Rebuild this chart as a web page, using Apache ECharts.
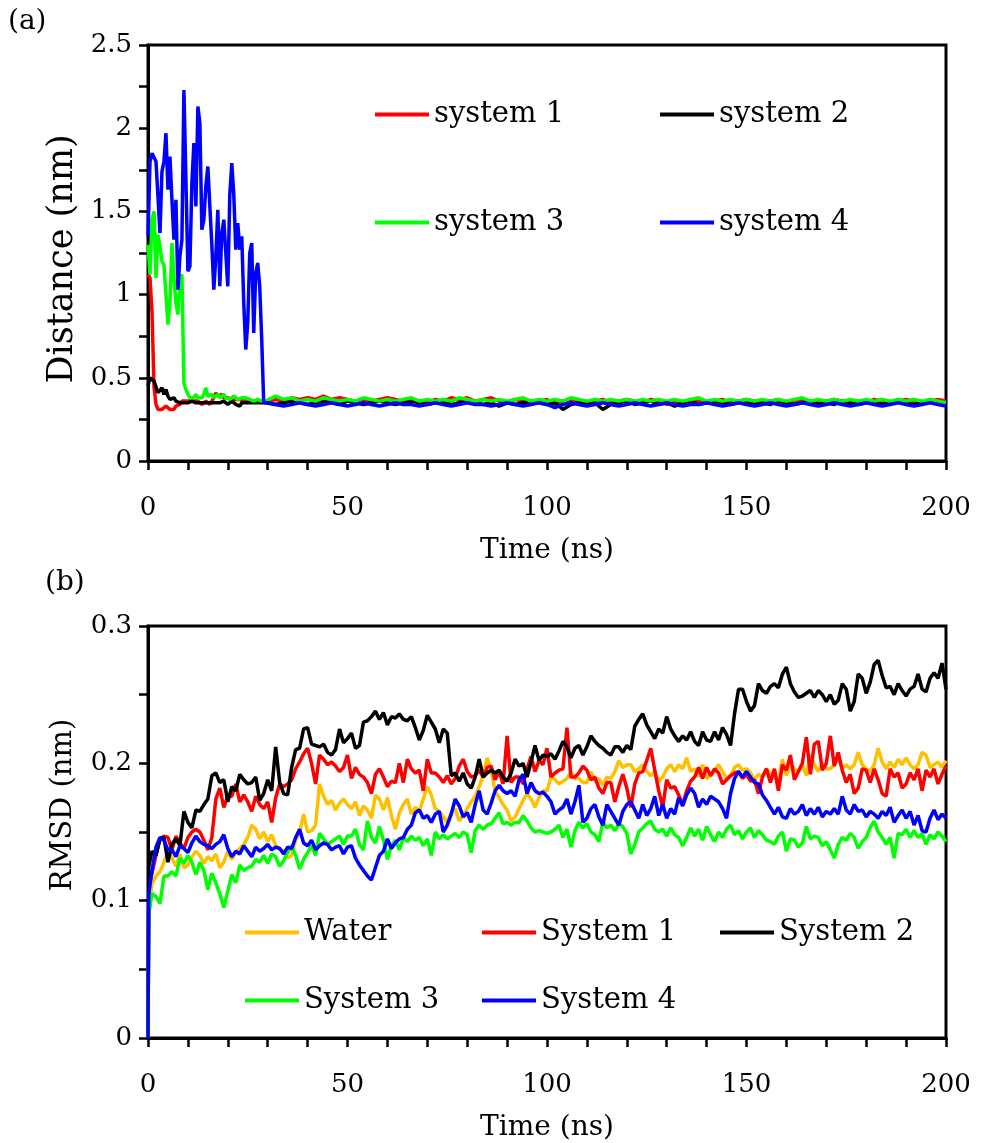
<!DOCTYPE html>
<html>
<head>
<meta charset="utf-8">
<script src="https://cdn.jsdelivr.net/npm/echarts@6/dist/echarts.min.js"></script>
<style>
  html, body { margin: 0; padding: 0; background: #fff; }
  #chart { width: 985px; height: 1143px; }
</style>
</head>
<body>
<div id="chart"></div>
<script>
// ---------- (a) Distance vs time: 0-29.5 ns every 0.5 ns, then 30-200 ns every 2 ns ----------
const distSys1Early = [
  1.12,1.10,0.90,0.45,0.34,0.31,0.32,0.31,0.30,0.33,
  0.32,0.31,0.32,0.31,0.33,0.32,0.34,0.36,0.35,0.36,
  0.35,0.36,0.35,0.36,0.35,0.36,0.35,0.34,0.35,0.36,
  0.35,0.34,0.36,0.38,0.41,0.39,0.38,0.40,0.38,0.37,
  0.38,0.39,0.37,0.38,0.37,0.36,0.37,0.38,0.36,0.37,
  0.36,0.37,0.36,0.37,0.36,0.35,0.36,0.37,0.36,0.35
];
const distSys1Late = [
  0.36,0.37,0.36,0.38,0.37,0.38,0.37,0.39,0.37,0.38,
  0.37,0.36,0.37,0.36,0.37,0.38,0.37,0.36,0.37,0.36,
  0.35,0.37,0.36,0.38,0.37,0.38,0.36,0.37,0.38,0.36,
  0.35,0.37,0.36,0.35,0.36,0.37,0.34,0.36,0.37,0.36,
  0.35,0.36,0.37,0.35,0.36,0.37,0.36,0.35,0.37,0.36,
  0.34,0.36,0.35,0.37,0.36,0.35,0.36,0.37,0.35,0.36,
  0.37,0.36,0.35,0.36,0.37,0.35,0.36,0.37,0.36,0.35,
  0.36,0.37,0.36,0.35,0.36,0.35,0.37,0.36,0.35,0.36,
  0.37,0.36,0.35,0.36,0.37,0.36
];
const distSys2Early = [
  0.45,0.50,0.51,0.48,0.47,0.41,0.42,0.44,0.40,0.43,
  0.39,0.37,0.37,0.38,0.36,0.37,0.35,0.36,0.35,0.36,
  0.35,0.34,0.36,0.35,0.35,0.36,0.35,0.34,0.35,0.36,
  0.35,0.34,0.35,0.36,0.35,0.34,0.35,0.35,0.36,0.35,
  0.34,0.35,0.36,0.35,0.34,0.35,0.33,0.35,0.34,0.35,
  0.36,0.35,0.34,0.35,0.36,0.35,0.34,0.35,0.34,0.35
];
const distSys2Late = [
  0.35,0.34,0.35,0.36,0.35,0.34,0.35,0.36,0.35,0.34,
  0.36,0.35,0.34,0.35,0.36,0.35,0.34,0.35,0.36,0.35,
  0.34,0.35,0.36,0.34,0.35,0.36,0.35,0.34,0.35,0.33,
  0.35,0.34,0.35,0.36,0.35,0.34,0.35,0.31,0.34,0.35,
  0.34,0.35,0.31,0.34,0.35,0.36,0.34,0.35,0.36,0.34,
  0.35,0.33,0.35,0.36,0.34,0.35,0.36,0.35,0.34,0.35,
  0.36,0.34,0.35,0.34,0.36,0.35,0.34,0.35,0.36,0.34,
  0.35,0.34,0.36,0.35,0.34,0.35,0.36,0.34,0.35,0.36,
  0.35,0.34,0.35,0.36,0.35,0.34
];
const distSys3Early = [
  1.30,1.12,1.45,1.50,1.10,1.36,1.29,1.20,1.18,1.00,
  0.82,0.95,1.31,1.10,0.95,0.88,1.10,1.12,0.47,0.43,
  0.40,0.38,0.39,0.38,0.40,0.38,0.39,0.38,0.40,0.44,
  0.39,0.38,0.40,0.38,0.39,0.40,0.38,0.39,0.40,0.38,
  0.39,0.37,0.38,0.39,0.38,0.37,0.38,0.38,0.37,0.38,
  0.37,0.37,0.38,0.36,0.37,0.37,0.36,0.36,0.37,0.36
];
const distSys3Late = [
  0.36,0.39,0.37,0.38,0.36,0.37,0.36,0.38,0.37,0.36,
  0.37,0.36,0.38,0.37,0.36,0.37,0.36,0.37,0.38,0.36,
  0.37,0.36,0.37,0.36,0.38,0.37,0.36,0.37,0.36,0.37,
  0.36,0.37,0.38,0.36,0.37,0.36,0.37,0.36,0.38,0.37,
  0.36,0.37,0.36,0.37,0.36,0.37,0.36,0.37,0.36,0.37,
  0.36,0.37,0.36,0.37,0.38,0.36,0.37,0.36,0.37,0.36,
  0.37,0.36,0.37,0.36,0.37,0.36,0.37,0.38,0.36,0.37,
  0.36,0.37,0.36,0.37,0.36,0.37,0.36,0.37,0.36,0.37,
  0.36,0.37,0.36,0.37,0.36,0.35
];
const distSys4Early = [
  1.35,1.80,1.85,1.86,1.80,1.59,1.37,1.74,1.80,1.97,
  1.63,1.83,1.57,1.33,1.57,1.03,1.23,1.33,2.23,1.70,
  1.14,1.17,1.67,1.91,1.53,2.13,2.03,1.39,1.45,1.65,
  1.77,1.53,1.30,1.03,1.23,1.51,1.05,1.37,1.45,1.25,
  1.05,1.60,1.79,1.60,1.27,1.43,1.27,1.35,0.95,0.67,
  0.83,1.25,1.31,0.77,1.13,1.19,1.05,0.73,0.35,0.34
];
const distSys4Late = [
  0.35,0.34,0.33,0.34,0.35,0.34,0.33,0.34,0.35,0.34,
  0.33,0.34,0.35,0.34,0.33,0.34,0.35,0.34,0.34,0.33,
  0.34,0.35,0.34,0.33,0.34,0.35,0.34,0.34,0.33,0.34,
  0.35,0.34,0.33,0.34,0.35,0.34,0.32,0.34,0.35,0.34,
  0.33,0.34,0.35,0.34,0.33,0.34,0.35,0.34,0.33,0.34,
  0.35,0.34,0.33,0.34,0.34,0.35,0.34,0.33,0.34,0.35,
  0.34,0.33,0.34,0.35,0.34,0.33,0.34,0.35,0.34,0.33,
  0.34,0.35,0.34,0.33,0.34,0.35,0.34,0.33,0.34,0.35,
  0.34,0.33,0.34,0.35,0.34,0.33
];

// sample times for panel (a)
const distTime = [];
for (let i = 0; i < 60; i++) distTime.push(i * 0.5);
for (let t = 30; t <= 200; t += 2) distTime.push(t);

// ---------- (b) RMSD vs time: samples at 0, 0.2, then every 1 ns to 200 ns ----------
const rmsdTime = [0, 0.2];
for (let t = 1; t <= 200; t++) rmsdTime.push(t);

const rmsdWater = [
  0, 0.095,
  0.112,0.118,0.121,0.128,0.135,0.131,0.125,0.134,0.124,0.126,
  0.132,0.136,0.133,0.127,0.132,0.129,0.134,0.124,0.128,0.136,
  0.130,0.135,0.138,0.141,0.146,0.155,0.152,0.145,0.150,0.143,
  0.148,0.140,0.138,0.136,0.131,0.133,0.144,0.150,0.163,0.150,
  0.151,0.155,0.185,0.176,0.170,0.173,0.166,0.171,0.174,0.170,
  0.167,0.172,0.162,0.169,0.166,0.160,0.177,0.174,0.166,0.175,
  0.162,0.152,0.164,0.170,0.174,0.163,0.168,0.165,0.174,0.183,
  0.177,0.167,0.165,0.161,0.157,0.164,0.167,0.158,0.162,0.167,
  0.172,0.176,0.183,0.191,0.204,0.195,0.180,0.175,0.170,0.166,
  0.158,0.161,0.167,0.173,0.178,0.174,0.168,0.175,0.180,0.180,
  0.190,0.188,0.185,0.187,0.189,0.194,0.189,0.189,0.186,0.186,
  0.194,0.187,0.189,0.184,0.190,0.189,0.194,0.202,0.197,0.199,
  0.199,0.194,0.196,0.199,0.194,0.191,0.194,0.187,0.190,0.196,
  0.199,0.194,0.199,0.196,0.204,0.194,0.196,0.190,0.199,0.189,
  0.191,0.194,0.199,0.194,0.189,0.191,0.197,0.199,0.195,0.196,
  0.193,0.188,0.192,0.190,0.196,0.193,0.191,0.186,0.203,0.191,
  0.199,0.196,0.194,0.199,0.191,0.206,0.199,0.194,0.200,0.196,
  0.196,0.199,0.204,0.196,0.199,0.196,0.199,0.208,0.199,0.196,
  0.194,0.199,0.211,0.201,0.196,0.201,0.197,0.203,0.199,0.204,
  0.199,0.196,0.199,0.208,0.206,0.197,0.199,0.201,0.197,0.202
];
const rmsdSys1 = [
  0, 0.110,
  0.120,0.133,0.145,0.147,0.146,0.137,0.147,0.142,0.138,0.146,
  0.150,0.152,0.150,0.144,0.137,0.146,0.174,0.182,0.168,0.176,
  0.176,0.185,0.172,0.177,0.172,0.165,0.176,0.170,0.167,0.172,
  0.157,0.175,0.185,0.183,0.185,0.188,0.196,0.201,0.207,0.211,
  0.200,0.185,0.206,0.203,0.199,0.201,0.198,0.194,0.197,0.206,
  0.189,0.197,0.192,0.190,0.186,0.178,0.192,0.196,0.190,0.183,
  0.187,0.186,0.200,0.186,0.203,0.196,0.193,0.195,0.180,0.203,
  0.193,0.193,0.190,0.186,0.191,0.185,0.189,0.198,0.203,0.194,
  0.190,0.191,0.195,0.190,0.197,0.198,0.188,0.194,0.185,0.220,
  0.186,0.190,0.190,0.185,0.196,0.205,0.194,0.202,0.199,0.211,
  0.190,0.193,0.195,0.196,0.226,0.190,0.190,0.193,0.198,0.195,
  0.188,0.190,0.182,0.178,0.186,0.186,0.172,0.183,0.192,0.182,
  0.168,0.185,0.193,0.194,0.202,0.211,0.195,0.180,0.168,0.188,
  0.182,0.183,0.177,0.170,0.180,0.187,0.190,0.197,0.189,0.197,
  0.191,0.196,0.193,0.185,0.188,0.191,0.193,0.194,0.189,0.192,
  0.187,0.188,0.178,0.190,0.196,0.186,0.196,0.180,0.199,0.195,
  0.206,0.188,0.194,0.200,0.219,0.192,0.214,0.216,0.195,0.200,
  0.220,0.198,0.208,0.195,0.186,0.192,0.178,0.182,0.196,0.195,
  0.186,0.196,0.188,0.178,0.176,0.196,0.190,0.193,0.182,0.185,
  0.193,0.188,0.196,0.180,0.195,0.190,0.196,0.185,0.192,0.198
];
const rmsdSys2 = [
  0, 0.125,
  0.136,0.133,0.145,0.146,0.128,0.141,0.145,0.140,0.165,0.157,
  0.153,0.166,0.165,0.170,0.174,0.191,0.193,0.186,0.188,0.172,
  0.183,0.180,0.192,0.188,0.185,0.186,0.190,0.173,0.178,0.188,
  0.180,0.212,0.186,0.178,0.177,0.197,0.210,0.211,0.225,0.226,
  0.214,0.213,0.212,0.214,0.208,0.206,0.210,0.225,0.215,0.218,
  0.222,0.211,0.213,0.230,0.231,0.234,0.238,0.232,0.237,0.228,
  0.234,0.233,0.236,0.232,0.231,0.234,0.226,0.217,0.224,0.235,
  0.230,0.225,0.215,0.225,0.222,0.191,0.193,0.187,0.193,0.185,
  0.182,0.190,0.203,0.190,0.193,0.195,0.193,0.195,0.190,0.187,
  0.193,0.203,0.198,0.200,0.190,0.201,0.213,0.202,0.206,0.205,
  0.207,0.203,0.209,0.216,0.212,0.204,0.211,0.213,0.206,0.212,
  0.220,0.216,0.213,0.211,0.208,0.206,0.212,0.212,0.208,0.213,
  0.210,0.227,0.232,0.236,0.228,0.223,0.218,0.225,0.222,0.234,
  0.225,0.220,0.216,0.220,0.217,0.223,0.216,0.213,0.223,0.217,
  0.216,0.223,0.217,0.226,0.221,0.213,0.236,0.254,0.254,0.245,
  0.238,0.242,0.258,0.253,0.251,0.256,0.258,0.255,0.265,0.270,
  0.258,0.252,0.248,0.249,0.251,0.253,0.248,0.253,0.250,0.245,
  0.250,0.243,0.246,0.258,0.254,0.238,0.245,0.265,0.262,0.251,
  0.259,0.272,0.275,0.264,0.255,0.256,0.250,0.258,0.253,0.249,
  0.254,0.256,0.265,0.254,0.252,0.262,0.266,0.262,0.273,0.254
];
const rmsdSys3 = [
  0, 0.090,
  0.105,0.103,0.098,0.118,0.118,0.121,0.118,0.131,0.127,0.133,
  0.128,0.119,0.128,0.122,0.108,0.120,0.113,0.105,0.095,0.107,
  0.119,0.113,0.126,0.122,0.124,0.125,0.130,0.128,0.133,0.127,
  0.134,0.132,0.125,0.129,0.135,0.140,0.133,0.123,0.130,0.135,
  0.140,0.133,0.149,0.145,0.141,0.143,0.145,0.147,0.141,0.147,
  0.147,0.152,0.141,0.137,0.158,0.146,0.142,0.154,0.144,0.130,
  0.140,0.144,0.137,0.146,0.143,0.147,0.144,0.146,0.140,0.145,
  0.133,0.150,0.145,0.148,0.145,0.147,0.149,0.146,0.150,0.148,
  0.135,0.151,0.155,0.152,0.155,0.156,0.160,0.164,0.156,0.157,
  0.155,0.157,0.157,0.162,0.158,0.153,0.150,0.151,0.150,0.149,
  0.150,0.152,0.155,0.146,0.152,0.139,0.151,0.157,0.153,0.156,
  0.150,0.148,0.143,0.157,0.153,0.155,0.151,0.156,0.154,0.149,
  0.134,0.141,0.150,0.153,0.156,0.158,0.152,0.150,0.152,0.147,
  0.153,0.148,0.146,0.140,0.146,0.153,0.147,0.152,0.144,0.154,
  0.148,0.143,0.150,0.146,0.152,0.155,0.148,0.151,0.145,0.150,
  0.153,0.146,0.151,0.148,0.144,0.143,0.141,0.147,0.150,0.136,
  0.145,0.144,0.139,0.142,0.154,0.145,0.147,0.146,0.140,0.143,
  0.137,0.131,0.141,0.146,0.144,0.149,0.146,0.138,0.143,0.146,
  0.153,0.158,0.150,0.146,0.141,0.146,0.131,0.149,0.148,0.152,
  0.146,0.151,0.146,0.149,0.141,0.148,0.145,0.150,0.147,0.143
];
const rmsdSys4 = [
  0, 0.105,
  0.122,0.139,0.146,0.144,0.137,0.137,0.132,0.140,0.138,0.135,
  0.142,0.147,0.143,0.141,0.140,0.138,0.141,0.143,0.148,0.138,
  0.132,0.136,0.134,0.140,0.136,0.132,0.139,0.136,0.138,0.141,
  0.137,0.139,0.138,0.134,0.139,0.138,0.146,0.152,0.142,0.140,
  0.144,0.137,0.140,0.142,0.141,0.137,0.139,0.140,0.134,0.139,
  0.140,0.131,0.126,0.122,0.118,0.115,0.124,0.133,0.136,0.145,
  0.138,0.142,0.145,0.146,0.152,0.155,0.164,0.166,0.160,0.162,
  0.157,0.163,0.165,0.150,0.155,0.163,0.174,0.169,0.161,0.164,
  0.157,0.170,0.180,0.166,0.163,0.171,0.180,0.184,0.180,0.178,
  0.180,0.176,0.188,0.192,0.178,0.186,0.180,0.178,0.179,0.176,
  0.172,0.163,0.166,0.168,0.174,0.163,0.172,0.184,0.157,0.160,
  0.167,0.170,0.161,0.155,0.170,0.165,0.160,0.155,0.165,0.170,
  0.172,0.166,0.160,0.170,0.162,0.167,0.176,0.162,0.170,0.160,
  0.167,0.163,0.175,0.169,0.177,0.182,0.178,0.168,0.174,0.170,
  0.176,0.174,0.172,0.167,0.160,0.178,0.189,0.194,0.190,0.194,
  0.190,0.186,0.185,0.177,0.173,0.168,0.163,0.168,0.161,0.160,
  0.167,0.163,0.165,0.170,0.162,0.167,0.163,0.168,0.161,0.165,
  0.163,0.167,0.163,0.176,0.166,0.163,0.170,0.165,0.166,0.161,
  0.165,0.163,0.160,0.165,0.162,0.168,0.157,0.162,0.166,0.160,
  0.165,0.155,0.162,0.151,0.150,0.160,0.166,0.159,0.163,0.160
];

const FONT = 'DejaVu Serif';
const RED = '#ff0000', BLACK = '#000000', GREEN = '#00ff00', BLUE = '#0000ff', GOLD = '#ffc000';

function line(name, times, vals, color, idx) {
  return {
    name: name, type: 'line', xAxisIndex: idx, yAxisIndex: idx,
    data: times.map((t, i) => [t, vals[i]]),
    showSymbol: false, symbol: 'none', silent: true, animation: false,
    lineStyle: { color: color, width: 3.5 }, itemStyle: { color: color }
  };
}

function legendItem(name, left, top) {
  return {
    data: [name], left: left, top: top, orient: 'horizontal',
    icon: 'rect', itemWidth: 54, itemHeight: 4, itemGap: 0, padding: 0,
    selectedMode: false,
    textStyle: { fontFamily: FONT, fontSize: 29, color: '#000' }
  };
}

const axisLineStyle = { show: true, onZero: false, lineStyle: { color: '#000', width: 3 } };
const tickStyle = { show: true, inside: false, length: 9, lineStyle: { color: '#000', width: 2.5 } };
const labelFont = { fontFamily: FONT, fontSize: 26, color: '#000' };
const nameFont = { fontFamily: FONT, fontSize: 28, color: '#000' };

function xAxis(idx) {
  return {
    type: 'value', gridIndex: idx, min: 0, max: 200, interval: 10,
    name: 'Time (ns)', nameLocation: 'middle', nameGap: 76, nameTextStyle: nameFont,
    axisLine: axisLineStyle, axisTick: tickStyle, splitLine: { show: false },
    axisLabel: Object.assign({ margin: 34, formatter: v => (v % 50 === 0 ? String(v) : '') }, labelFont)
  };
}

const option = {
  backgroundColor: '#ffffff',
  animation: false,
  textStyle: { fontFamily: FONT },
  grid: [
    { left: 148, top: 45, width: 798, height: 416, show: true, borderColor: '#000', borderWidth: 3, backgroundColor: 'transparent' },
    { left: 148, top: 626, width: 798, height: 416, show: true, borderColor: '#000', borderWidth: 3, backgroundColor: 'transparent' }
  ],
  xAxis: [xAxis(0), xAxis(1)],
  yAxis: [
    {
      type: 'value', gridIndex: 0, min: 0, max: 2.5, interval: 0.25,
      axisLine: axisLineStyle, axisTick: tickStyle, splitLine: { show: false },
      axisLabel: Object.assign({ margin: 16, formatter: v => (Math.round(v * 100) % 50 === 0 ? String(+v.toFixed(2)) : '') }, labelFont)
    },
    {
      type: 'value', gridIndex: 1, min: 0, max: 0.3, interval: 0.05,
      axisLine: axisLineStyle, axisTick: tickStyle, splitLine: { show: false },
      axisLabel: Object.assign({ margin: 16, formatter: v => {
        const c = Math.round(v * 100);
        if (c % 10 !== 0) return '';
        return c === 0 ? '0' : (c / 100).toFixed(1);
      } }, labelFont)
    }
  ],
  legend: [
    legendItem('system 1', 375, 100),
    legendItem('system 2', 660, 100),
    legendItem('system 3', 375, 208),
    legendItem('system 4', 660, 208),
    legendItem('Water', 245, 918),
    legendItem('System 1', 482, 918),
    legendItem('System 2', 720, 918),
    legendItem('System 3', 245, 986),
    legendItem('System 4', 482, 986)
  ],
  graphic: [
    { type: 'text', left: 8, top: 8, style: { text: '(a)', font: '28px "DejaVu Serif"', fill: '#000' } },
    { type: 'text', left: 45, top: 569, style: { text: '(b)', font: '28px "DejaVu Serif"', fill: '#000' } },
    { type: 'text', x: 63, y: 259, rotation: Math.PI / 2,
      style: { text: 'Distance (nm)', font: '35px "DejaVu Serif"', fill: '#000', align: 'center', verticalAlign: 'middle' } },
    { type: 'text', x: 63, y: 805, rotation: Math.PI / 2,
      style: { text: 'RMSD (nm)', font: '29px "DejaVu Serif"', fill: '#000', align: 'center', verticalAlign: 'middle' } }
  ],
  series: [
    line('system 1', distTime, distSys1Early.concat(distSys1Late), RED, 0),
    line('system 2', distTime, distSys2Early.concat(distSys2Late), BLACK, 0),
    line('system 3', distTime, distSys3Early.concat(distSys3Late), GREEN, 0),
    line('system 4', distTime, distSys4Early.concat(distSys4Late), BLUE, 0),
    line('Water', rmsdTime, rmsdWater, GOLD, 1),
    line('System 1', rmsdTime, rmsdSys1, RED, 1),
    line('System 2', rmsdTime, rmsdSys2, BLACK, 1),
    line('System 3', rmsdTime, rmsdSys3, GREEN, 1),
    line('System 4', rmsdTime, rmsdSys4, BLUE, 1)
  ]
};

const chart = echarts.init(document.getElementById('chart'), null, { renderer: 'canvas' });
chart.setOption(option);
</script>
</body>
</html>
